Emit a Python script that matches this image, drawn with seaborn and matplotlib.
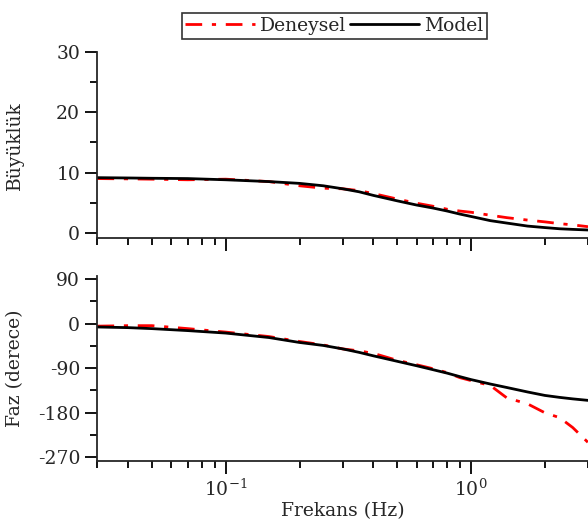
import numpy as np
import pandas as pd
import matplotlib
matplotlib.use("Agg")
import matplotlib.pyplot as plt
import matplotlib.ticker as mticker
import seaborn as sns

# frequency points (Hz)
freq = [0.03, 0.04, 0.05, 0.07, 0.1, 0.15, 0.2, 0.25, 0.3, 0.35, 0.4, 0.5,
        0.6, 0.7, 0.8, 0.9, 1.0, 1.2, 1.4, 1.7, 2.0, 2.3, 2.6, 3.0]

# magnitude
mag_model = [9.15, 9.1, 9.05, 9.0, 8.8, 8.5, 8.2, 7.8, 7.3, 6.8, 6.2, 5.3,
             4.6, 4.1, 3.6, 3.1, 2.7, 2.0, 1.6, 1.1, 0.85, 0.65, 0.55, 0.45]
mag_exp = [9.0, 8.95, 8.9, 8.8, 8.9, 8.5, 7.8, 7.4, 7.3, 7.0, 6.5, 5.6,
           4.9, 4.4, 3.9, 3.6, 3.4, 2.9, 2.5, 2.1, 1.8, 1.5, 1.3, 1.0]

# phase (deg)
ph_model = [-6.7, -8, -10, -14, -19, -28, -38, -44, -51, -58, -65, -76,
            -85, -93, -100, -107, -113, -122, -129, -138, -145, -149, -152, -155]
ph_exp = [-5, -4, -4, -10, -17, -26, -36, -43, -51, -55, -60, -74,
          -83, -91, -99, -109, -115, -125, -150, -162, -180, -190, -210, -240]

df = pd.DataFrame({"freq": freq, "mag_model": mag_model, "mag_exp": mag_exp,
                   "ph_model": ph_model, "ph_exp": ph_exp})

sns.set_style("ticks")
plt.rcParams['font.family'] = ['DejaVu Serif']
font = 13.5
plt.rcParams.update({'font.size': font, 'mathtext.fontset': 'dejavuserif',
                     'axes.unicode_minus': False})

fig = plt.figure(figsize=(5.88, 5.32), dpi=100)
ax1 = fig.add_axes([0.1658, 0.5521, 0.8342, 0.3496])
ax2 = fig.add_axes([0.1658, 0.1335, 0.8342, 0.3483])

red = (1.0, 0.0, 0.0)
for ax, ye, ym in [(ax1, "mag_exp", "mag_model"), (ax2, "ph_exp", "ph_model")]:
    sns.lineplot(data=df, x="freq", y=ye, ax=ax, color=red, linestyle=(0, (6, 3.5, 1.5, 3.5)),
                 linewidth=2, label="Deneysel")
    sns.lineplot(data=df, x="freq", y=ym, ax=ax, color='black', linewidth=2, label="Model")
    ax.set_xscale('log')
    ax.set_xlim(0.03, 3.0)
    sns.despine(ax=ax)
    ax.spines['left'].set_linewidth(1.3)
    ax.spines['bottom'].set_linewidth(1.3)
    ax.tick_params(which='major', length=9, width=1.3, color='black', labelsize=font)
    ax.tick_params(which='minor', length=5, width=1.3, color='black')
    ax.xaxis.set_minor_locator(mticker.LogLocator(base=10, subs=np.arange(2, 10)))
    ax.get_legend().remove()

ax1.set_ylim(-0.93, 30)
ax1.set_yticks([0, 10, 20, 30])
ax1.yaxis.set_minor_locator(mticker.MultipleLocator(5))
ax1.set_xlabel("")
ax1.set_ylabel("Büyüklük")
ax1.tick_params(axis='x', which='both', labelbottom=False)

ax2.set_ylim(-277.5, 97)
ax2.set_yticks([90, 0, -90, -180, -270])
ax2.yaxis.set_minor_locator(mticker.MultipleLocator(45))
ax2.set_xlabel("Frekans (Hz)", labelpad=2)
ax2.set_ylabel("Faz (derece)")

ax1.yaxis.set_label_coords(-0.15, 0.5)
ax2.yaxis.set_label_coords(-0.15, 0.5)

h, l = ax1.get_legend_handles_labels()
leg = fig.legend(h, l, ncol=2, loc='upper center', bbox_to_anchor=(0.569, 0.993),
                 frameon=True, fancybox=False, edgecolor='black', handlelength=3.7,
                 columnspacing=0.15, handletextpad=0.3, borderpad=0.2, fontsize=font)
leg.get_frame().set_linewidth(1.2)

plt.savefig("out.png", dpi=100)
